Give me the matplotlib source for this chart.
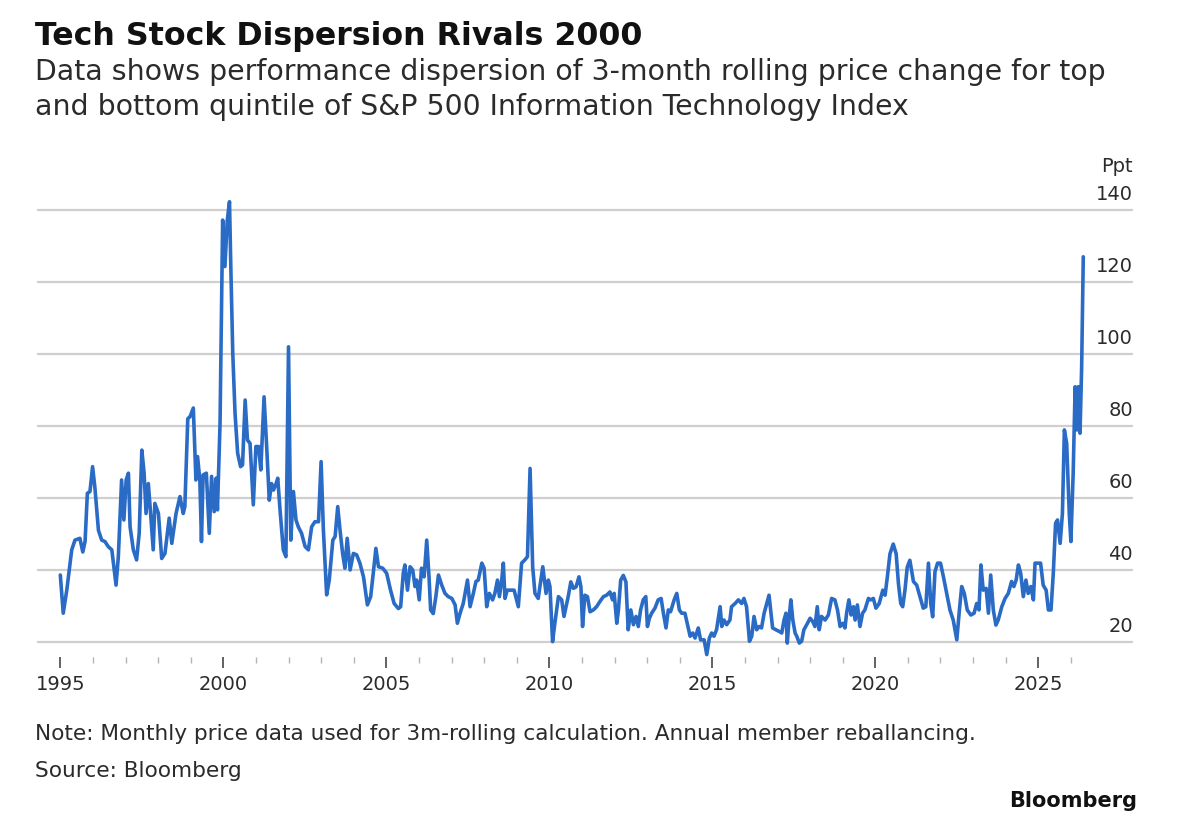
import matplotlib
matplotlib.use("Agg")
import matplotlib.pyplot as plt
from matplotlib.ticker import FixedLocator, NullFormatter

# ---------------- text ----------------
title = "Tech Stock Dispersion Rivals 2000"
subtitle_lines = [
    "Data shows performance dispersion of 3-month rolling price change for top",
    "and bottom quintile of S&P 500 Information Technology Index",
]
note = "Note: Monthly price data used for 3m-rolling calculation. Annual member reballancing."
source = "Source: Bloomberg"
brand = "Bloomberg"
unit_label = "Ppt"

# ---------------- axes ----------------
y_ticks = [20, 40, 60, 80, 100, 120, 140]
x_major = [1995, 2000, 2005, 2010, 2015, 2020, 2025]
x_major_labels = ["1995", "2000", "2005", "2010", "2015", "2020", "2025"]
x_minor = list(range(1995, 2027))

# ---------------- data (decimal year, ppt) ----------------
dates = [
    1995.00, 1995.09, 1995.20, 1995.35, 1995.45, 1995.60, 1995.69, 1995.76, 1995.83, 1995.91,
    1995.99, 1996.06, 1996.17, 1996.27, 1996.37, 1996.47, 1996.58, 1996.71, 1996.78, 1996.88,
    1996.95, 1997.02, 1997.09, 1997.14, 1997.24, 1997.34, 1997.42, 1997.50, 1997.57, 1997.63,
    1997.70, 1997.77, 1997.85, 1997.90, 1998.01, 1998.11, 1998.21, 1998.34, 1998.42, 1998.55,
    1998.67, 1998.77, 1998.82, 1998.91, 1998.98, 1999.08, 1999.16, 1999.21, 1999.28, 1999.33,
    1999.38, 1999.48, 1999.57, 1999.64, 1999.72, 1999.78, 1999.82, 1999.90, 1999.98, 2000.05,
    2000.12, 2000.19, 2000.23, 2000.29, 2000.36, 2000.44, 2000.53, 2000.59, 2000.67, 2000.74,
    2000.82, 2000.92, 2001.00, 2001.08, 2001.15, 2001.25, 2001.33, 2001.41, 2001.48, 2001.54,
    2001.62, 2001.67, 2001.74, 2001.84, 2001.92, 2002.00, 2002.07, 2002.15, 2002.23, 2002.30,
    2002.40, 2002.51, 2002.61, 2002.71, 2002.81, 2002.92, 2003.00, 2003.07, 2003.17, 2003.25,
    2003.36, 2003.43, 2003.51, 2003.58, 2003.66, 2003.73, 2003.80, 2003.89, 2003.99, 2004.09,
    2004.19, 2004.30, 2004.42, 2004.52, 2004.60, 2004.68, 2004.76, 2004.89, 2005.01, 2005.13,
    2005.24, 2005.37, 2005.44, 2005.52, 2005.57, 2005.65, 2005.73, 2005.81, 2005.88, 2005.93,
    2006.01, 2006.08, 2006.16, 2006.24, 2006.31, 2006.36, 2006.44, 2006.52, 2006.60, 2006.70,
    2006.80, 2006.90, 2007.01, 2007.11, 2007.18, 2007.26, 2007.36, 2007.49, 2007.57, 2007.67,
    2007.75, 2007.82, 2007.93, 2008.00, 2008.08, 2008.16, 2008.26, 2008.33, 2008.41, 2008.47,
    2008.54, 2008.59, 2008.64, 2008.71, 2008.79, 2008.92, 2009.05, 2009.15, 2009.25, 2009.33,
    2009.41, 2009.49, 2009.56, 2009.66, 2009.80, 2009.90, 2009.97, 2010.02, 2010.10, 2010.17,
    2010.28, 2010.38, 2010.45, 2010.58, 2010.66, 2010.74, 2010.82, 2010.91, 2010.97, 2011.02,
    2011.09, 2011.17, 2011.25, 2011.35, 2011.45, 2011.55, 2011.66, 2011.76, 2011.86, 2011.94,
    2011.99, 2012.07, 2012.12, 2012.19, 2012.27, 2012.35, 2012.42, 2012.50, 2012.58, 2012.66,
    2012.73, 2012.80, 2012.88, 2012.96, 2013.01, 2013.07, 2013.14, 2013.24, 2013.34, 2013.43,
    2013.50, 2013.58, 2013.65, 2013.72, 2013.83, 2013.91, 2013.99, 2014.06, 2014.16, 2014.23,
    2014.32, 2014.40, 2014.47, 2014.57, 2014.64, 2014.75, 2014.83, 2014.91, 2014.98, 2015.05,
    2015.13, 2015.24, 2015.29, 2015.36, 2015.44, 2015.54, 2015.59, 2015.70, 2015.80, 2015.90,
    2015.97, 2016.05, 2016.14, 2016.21, 2016.28, 2016.36, 2016.44, 2016.51, 2016.59, 2016.67,
    2016.74, 2016.79, 2016.85, 2016.95, 2017.06, 2017.13, 2017.20, 2017.26, 2017.30, 2017.36,
    2017.41, 2017.47, 2017.54, 2017.59, 2017.67, 2017.74, 2017.81, 2017.92, 2018.00, 2018.08,
    2018.15, 2018.22, 2018.28, 2018.35, 2018.46, 2018.56, 2018.66, 2018.76, 2018.84, 2018.92,
    2019.00, 2019.07, 2019.12, 2019.19, 2019.26, 2019.33, 2019.38, 2019.45, 2019.53, 2019.61,
    2019.68, 2019.79, 2019.86, 2019.94, 2020.02, 2020.12, 2020.23, 2020.30, 2020.37, 2020.45,
    2020.55, 2020.64, 2020.71, 2020.78, 2020.84, 2020.91, 2020.98, 2021.06, 2021.17, 2021.27,
    2021.37, 2021.47, 2021.55, 2021.63, 2021.70, 2021.76, 2021.83, 2021.91, 2022.00, 2022.09,
    2022.19, 2022.29, 2022.39, 2022.50, 2022.58, 2022.65, 2022.73, 2022.82, 2022.93, 2023.03,
    2023.11, 2023.18, 2023.24, 2023.31, 2023.40, 2023.47, 2023.54, 2023.62, 2023.70, 2023.77,
    2023.88, 2023.98, 2024.08, 2024.18, 2024.25, 2024.32, 2024.39, 2024.46, 2024.54, 2024.62,
    2024.69, 2024.77, 2024.85, 2024.90, 2024.98, 2025.07, 2025.15, 2025.24, 2025.31, 2025.39,
    2025.46, 2025.53, 2025.59, 2025.67, 2025.74, 2025.80, 2025.87, 2025.95, 2026.00, 2026.07,
    2026.13, 2026.18, 2026.23, 2026.28, 2026.33, 2026.38,
]
dispersion = [
    38.6, 28.0, 34.5, 45.6, 48.3, 48.8, 45.0, 48.0, 61.3, 61.8,
    68.7, 63.0, 51.0, 48.3, 47.9, 46.5, 45.6, 35.8, 43.7, 65.0,
    53.9, 65.0, 66.9, 52.0, 45.6, 42.8, 50.2, 73.3, 67.0, 55.7,
    64.0, 55.7, 45.6, 58.5, 55.7, 43.2, 44.6, 54.4, 47.4, 55.7,
    60.4, 55.7, 57.6, 82.0, 82.6, 85.0, 65.0, 71.5, 65.0, 47.9,
    66.4, 66.9, 50.2, 66.0, 56.2, 65.5, 56.7, 80.7, 137.2, 124.3,
    137.0, 142.3, 124.3, 100.2, 83.5, 72.4, 68.7, 69.2, 87.2, 76.1,
    75.2, 58.1, 74.3, 74.3, 67.8, 88.1, 74.3, 59.4, 64.0, 62.2,
    64.0, 65.5, 56.7, 45.6, 43.7, 102.0, 48.3, 61.8, 53.9, 52.0,
    50.2, 46.5, 45.6, 52.0, 53.4, 53.4, 70.1, 51.1, 33.1, 37.2,
    48.3, 49.3, 57.6, 51.1, 44.6, 40.5, 48.8, 40.0, 44.6, 44.2,
    41.9, 38.1, 30.3, 32.6, 39.1, 46.0, 40.9, 40.5, 39.1, 34.4,
    30.7, 29.3, 29.8, 39.1, 41.4, 34.4, 40.9, 40.0, 35.4, 37.2,
    31.7, 40.5, 38.1, 48.3, 38.1, 28.9, 27.9, 32.6, 38.6, 35.8,
    33.5, 32.6, 32.1, 30.3, 25.2, 27.9, 30.7, 37.2, 29.8, 33.5,
    36.8, 37.2, 41.9, 40.5, 29.8, 33.5, 31.7, 33.5, 37.2, 32.6,
    37.2, 41.9, 32.1, 34.4, 34.4, 34.4, 29.8, 41.9, 42.8, 43.7,
    68.2, 40.9, 33.5, 32.1, 40.9, 33.5, 37.2, 35.4, 20.1, 25.2,
    32.6, 31.7, 27.1, 32.6, 36.7, 34.9, 35.3, 38.1, 35.3, 24.3,
    33.0, 32.6, 28.4, 28.9, 29.8, 31.2, 32.6, 33.0, 33.9, 31.7,
    33.5, 25.2, 28.9, 37.2, 38.5, 36.7, 23.4, 28.9, 24.8, 27.1,
    24.3, 28.9, 31.7, 32.6, 24.3, 26.6, 28.0, 29.4, 31.7, 32.1,
    28.0, 23.9, 28.9, 28.4, 31.7, 33.5, 28.9, 28.0, 28.0, 25.2,
    21.6, 22.5, 21.1, 23.9, 20.6, 20.6, 16.5, 21.1, 22.5, 21.6,
    23.4, 29.8, 24.3, 26.1, 24.8, 26.1, 29.8, 30.7, 31.7, 30.7,
    32.1, 29.8, 20.2, 21.6, 27.1, 23.4, 24.3, 23.9, 28.0, 30.7,
    33.0, 28.9, 23.9, 23.4, 22.9, 22.5, 26.1, 28.0, 19.7, 27.1,
    31.7, 26.1, 22.5, 21.6, 19.7, 20.2, 23.4, 25.2, 26.6, 25.7,
    24.3, 29.8, 23.4, 27.1, 26.1, 27.5, 32.1, 31.7, 28.9, 24.3,
    25.2, 23.9, 28.0, 31.7, 27.5, 29.8, 26.1, 30.3, 24.3, 28.0,
    28.9, 32.1, 31.7, 32.1, 29.4, 30.7, 34.4, 33.0, 38.1, 44.5,
    47.2, 44.5, 36.2, 30.7, 29.8, 34.4, 40.8, 42.7, 36.8, 35.8,
    32.6, 29.4, 29.8, 41.9, 30.7, 27.0, 39.5, 41.9, 41.9, 38.1,
    33.5, 28.9, 26.1, 20.6, 28.9, 35.4, 33.5, 28.9, 27.5, 28.0,
    30.7, 28.9, 41.4, 34.4, 34.9, 28.0, 38.6, 28.9, 24.7, 26.1,
    29.8, 32.1, 33.5, 36.8, 35.4, 37.2, 41.4, 39.1, 32.6, 37.2,
    33.5, 35.4, 31.7, 41.9, 41.9, 41.9, 35.8, 34.4, 28.9, 28.9,
    39.1, 53.0, 53.9, 47.4, 55.7, 78.9, 75.2, 55.7, 47.9, 66.9,
    90.9, 78.9, 90.9, 78.0, 96.5, 127.0,
]

# ---------------- style ----------------
LINE_BLUE = "#2a6bc6"
GRID = "#cfcfcf"
TEXT = "#2b2b2b"
plt.rcParams["font.family"] = ["DejaVu Sans"]

W, H = 1200, 830
fig = plt.figure(figsize=(W / 100, H / 100), dpi=100)
fig.patch.set_facecolor("white")

left_px, right_px, top_px, bottom_px = 37, 1133, 192, 657
ax = fig.add_axes([left_px / W, 1 - bottom_px / H,
                   (right_px - left_px) / W, (bottom_px - top_px) / H])
ax.set_xlim(1994.285, 2027.905)
ax.set_ylim(15.83, 145)
for s in ax.spines.values():
    s.set_visible(False)

# horizontal gridlines
for v in y_ticks:
    ax.axhline(v, color=GRID, lw=1.6, zorder=1)

# series
ax.plot(dates, dispersion, color=LINE_BLUE, lw=2.6, solid_joinstyle="round",
        solid_capstyle="round", zorder=3, clip_on=False)

# y labels on right, sitting above each gridline
ax.set_yticks([])
for v in y_ticks:
    ax.annotate(str(v), xy=(1, v), xycoords=("axes fraction", "data"),
                xytext=(0, 7), textcoords="offset points",
                ha="right", va="baseline", fontsize=14, color=TEXT)
ax.annotate(unit_label, xy=(1, y_ticks[-1]), xycoords=("axes fraction", "data"),
            xytext=(0, 27), textcoords="offset points",
            ha="right", va="baseline", fontsize=14, color=TEXT)

# x ticks
ax.xaxis.set_major_locator(FixedLocator(x_major))
ax.set_xticklabels(x_major_labels)
ax.xaxis.set_minor_locator(FixedLocator(x_minor))
ax.xaxis.set_minor_formatter(NullFormatter())
ax.tick_params(axis="x", which="major", direction="out", length=8, width=1.3,
               color="#555555", labelsize=14, labelcolor=TEXT, pad=5)
ax.tick_params(axis="x", which="minor", direction="out", length=4.5, width=1.0,
               color="#b5b5b5")

# ---------------- titles / footer ----------------
def fy(px):
    return 1 - px / H

t_title = fig.text(35 / W, fy(45), title, fontsize=18, fontweight="bold",
                   color="#111111", ha="left", va="baseline")
t_sub1 = fig.text(35 / W, fy(80), subtitle_lines[0], fontsize=16,
                  color=TEXT, ha="left", va="baseline")
t_sub2 = fig.text(35 / W, fy(115), subtitle_lines[1], fontsize=16,
                  color=TEXT, ha="left", va="baseline")
t_note = fig.text(35 / W, fy(740), note, fontsize=13, color=TEXT,
                  ha="left", va="baseline")
t_src = fig.text(35 / W, fy(777), source, fontsize=13, color=TEXT,
                 ha="left", va="baseline")
t_brand = fig.text(1137 / W, fy(807), brand, fontsize=13, fontweight="bold",
                   color="#111111", ha="right", va="baseline")

fig.canvas.draw()
renderer = fig.canvas.get_renderer()

def fit_width(t, target):
    w = t.get_window_extent(renderer).width
    t.set_fontsize(t.get_fontsize() * target / w)

fit_width(t_title, 610)
fit_width(t_sub1, 1075)
t_sub2.set_fontsize(t_sub1.get_fontsize())
fit_width(t_note, 937)
t_src.set_fontsize(t_note.get_fontsize())
fit_width(t_brand, 127)

fig.savefig("out.png", dpi=100, facecolor="white")
